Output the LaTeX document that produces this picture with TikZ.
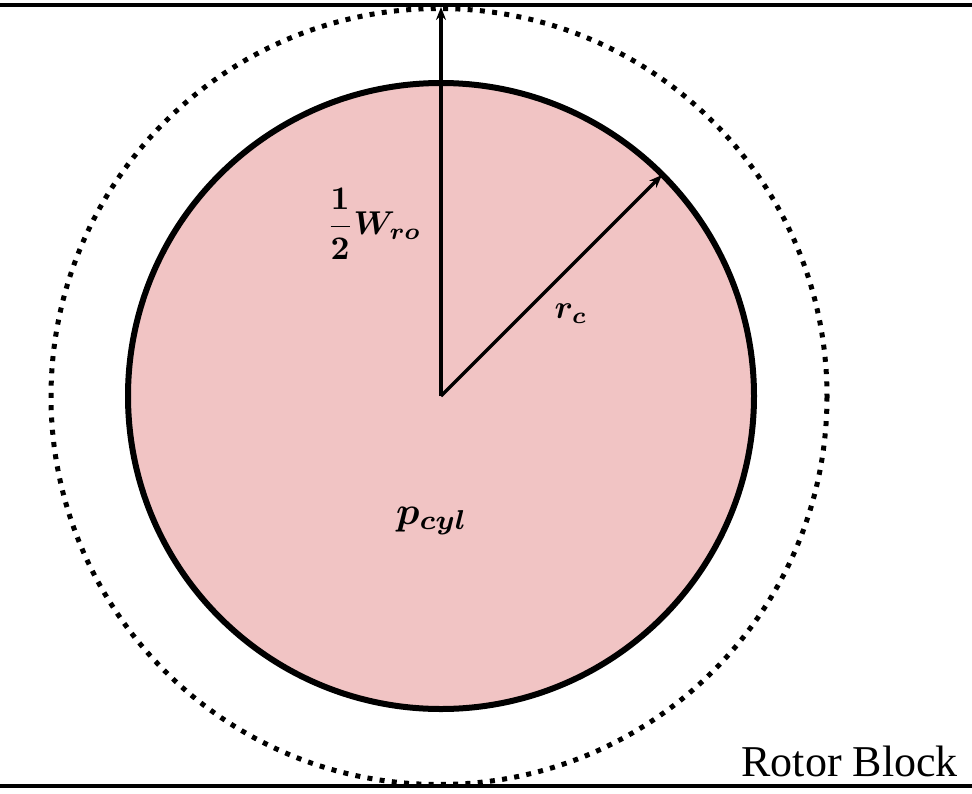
\documentclass[tikz,border=0pt]{standalone}
\usepackage{graphicx}
\usepackage{amsmath,bm}
\usepackage{fontspec}
\setmainfont{Liberation Serif}
\usetikzlibrary{arrows.meta}
\definecolor{cylpink}{RGB}{241,196,196}
\newcommand{\biglbl}[2]{\scalebox{#1}{$\bm{#2}$}}
\begin{document}
\begin{tikzpicture}[x=1pt,y=-1pt,
  wall/.style={line width=4pt},
  radius arrow/.style={line width=3.2pt,-{Stealth[length=13pt,width=10pt]}},
  mathlbl/.style={inner sep=0pt}]
\useasboundingbox (0,0) rectangle (972,793);
\coordinate (c) at (441,396);
\coordinate (cd) at (439,396.5);
\coordinate (tl) at (0,5);
\coordinate (tr) at (972,5);
\coordinate (bl) at (0,786);
\coordinate (br) at (972,786);
\coordinate (top) at (441,7);
\coordinate (rim) at (662,175);
\draw[wall] (tl) -- (tr);
\draw[wall] (bl) -- (br);
\draw[line width=5pt,dash pattern=on 5pt off 7.3pt] (cd) circle[radius=388];
\draw[line width=6pt,fill=cylpink] (c) circle[radius=313];
\draw[radius arrow] (c) -- (top);
\draw[radius arrow] (c) -- (rim);
\node[mathlbl] (w) at (374,224) {\biglbl{3.3}{\dfrac{1}{2}W_{ro}}};
\node[mathlbl] (r) at (571,314) {\biglbl{3.3}{r_c}};
\node[mathlbl] (p) at (432,521) {\biglbl{3.9}{p_{cyl}}};
\node[font=\fontsize{44}{50}\selectfont,inner sep=0pt,anchor=base east] (rb) at (958,776) {Rotor Block};
\end{tikzpicture}
\end{document}
